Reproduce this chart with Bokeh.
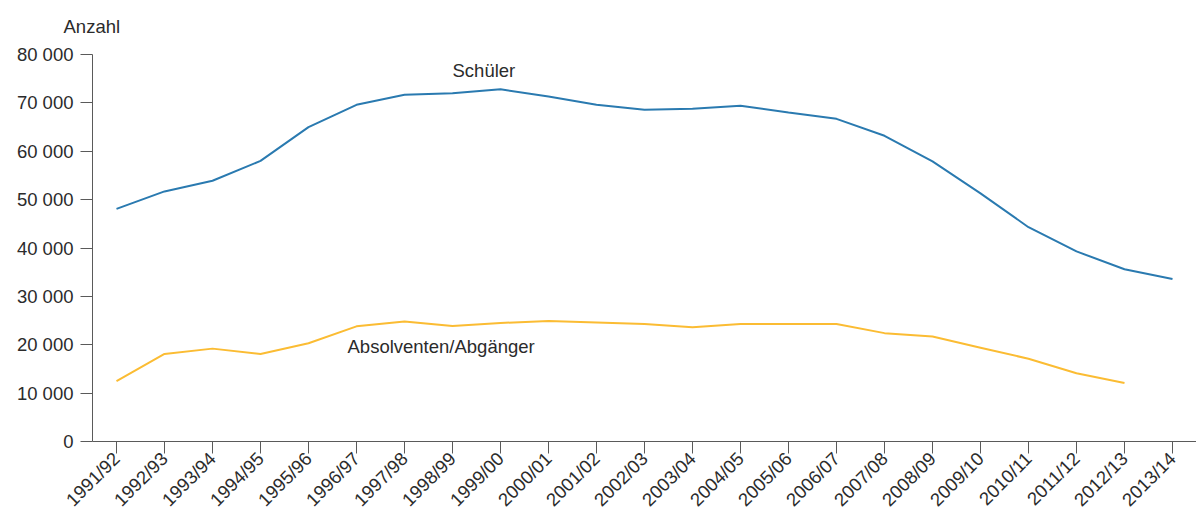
import math
from bokeh.plotting import figure
from bokeh.models import FixedTicker, FactorRange, Range1d, ColumnDataSource
from bokeh.core.properties import value
from bokeh.embed import file_html
from bokeh.resources import INLINE

years = ["1991/92", "1992/93", "1993/94", "1994/95", "1995/96", "1996/97", "1997/98",
         "1998/99", "1999/00", "2000/01", "2001/02", "2002/03", "2003/04", "2004/05",
         "2005/06", "2006/07", "2007/08", "2008/09", "2009/10", "2010/11", "2011/12",
         "2012/13", "2013/14"]
schueler = [48100, 51700, 53900, 58000, 65000, 69600, 71700, 72000, 72800, 71300,
            69600, 68600, 68800, 69400, 68000, 66700, 63200, 57900, 51300, 44300,
            39300, 35600, 33600]
absolventen_years = years[:-1]
absolventen = [12500, 18100, 19200, 18100, 20300, 23800, 24800, 23900, 24500, 24900,
               24600, 24300, 23600, 24300, 24300, 24300, 22400, 21700, 19400, 17100,
               14100, 12100]
y_ticks = [0, 10000, 20000, 30000, 40000, 50000, 60000, 70000, 80000]
y_tick_labels = ["0", "10 000", "20 000", "30 000", "40 000", "50 000", "60 000",
                 "70 000", "80 000"]
series_names = ["Schüler", "Absolventen/Abgänger"]
y_unit = "Anzahl"

FONT = "Liberation Sans"
FS = "18.5px"
TXT = "#2b2b2b"
AX = "#5a5a5a"
BLUE = "#2a7ab0"
ORANGE = "#fbbc33"

p = figure(frame_width=1104, frame_height=387, x_range=FactorRange(*years),
           y_range=Range1d(0, 80000), output_backend="svg", toolbar_location=None,
           min_border_left=92, min_border_right=0, min_border_top=53,
           min_border_bottom=0)
p.outline_line_color = None
p.xgrid.visible = False
p.ygrid.visible = False

p.title.text = y_unit
p.title.align = "left"
p.title.vertical_align = "top"
p.title.offset = -29
p.title.standoff = 31
p.title.text_font = FONT
p.title.text_font_size = FS
p.title.text_font_style = "normal"
p.title.text_color = TXT

p.line(years, schueler, line_color=BLUE, line_width=2)
p.line(absolventen_years, absolventen, line_color=ORANGE, line_width=2)

lab = ColumnDataSource(dict(x=[years[7], years[5]], y=[76700, 19600],
                            t=series_names, xo=[0, -9]))
p.text(x="x", y="y", text="t", x_offset="xo", source=lab,
       text_font=value(FONT), text_font_size=FS, text_color=TXT,
       text_align="left", text_baseline="middle")

p.yaxis.ticker = FixedTicker(ticks=y_ticks)
p.yaxis.major_label_overrides = {t: l for t, l in zip(y_ticks, y_tick_labels)}
for ax in (p.xaxis[0], p.yaxis[0]):
    ax.axis_line_color = AX
    ax.major_tick_line_color = AX
    ax.major_tick_out = 12
    ax.major_tick_in = 0
    ax.minor_tick_out = 0
    ax.minor_tick_in = 0
    ax.major_label_text_font = FONT
    ax.major_label_text_font_size = FS
    ax.major_label_text_color = TXT
p.yaxis.major_label_standoff = 7
p.xaxis.major_label_orientation = math.pi / 4
p.xaxis.major_label_standoff = 2

open("out.html", "w").write(file_html(p, INLINE))
